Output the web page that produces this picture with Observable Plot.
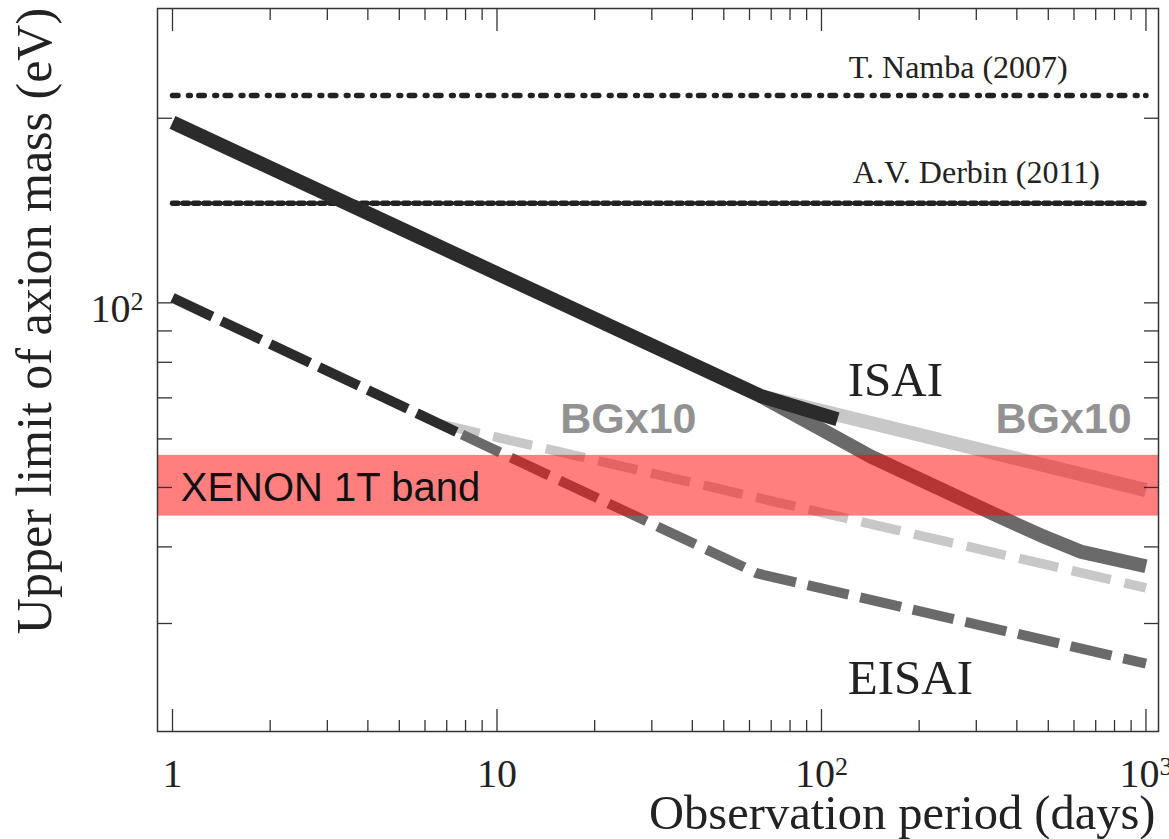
<!DOCTYPE html>
<html>
<head>
<meta charset="utf-8">
<script src="https://cdn.jsdelivr.net/npm/d3@7"></script>
<script src="https://cdn.jsdelivr.net/npm/@observablehq/plot@0.6"></script>
<style>
  html, body { margin: 0; padding: 0; background: #fff; overflow: hidden; }
  #chart svg { display: block; }
</style>
</head>
<body>
<div id="chart"></div>
<script>
// ---- data (days, eV) ----
const isaiDays = [1, 64.9, 112];
const isaiMass = [196.9, 70.5, 64.6];
const isaiTailDays = [64.9, 141.6, 351, 473, 628, 1000];
const isaiTailMass = [70.5, 56.2, 44.9, 41.8, 39.3, 37.2];
const isaiBgDays = [64.9, 1000];
const isaiBgMass = [70.5, 49.5];
const eisaiHeadDays = [1, 7.8];
const eisaiHeadMass = [101.9, 61.0];
const eisaiDays = [7.8, 63.5, 1000];
const eisaiMass = [61.0, 36.2, 25.8];
const eisaiBgDays = [6.7, 1000];
const eisaiBgMass = [63.4, 34.3];

const refNames = ["T. Namba (2007)", "A.V. Derbin (2011)"];
const refMass = [217.9, 145.4];
const refDays = [1, 1000];

const xenonLow = [44.9];
const xenonHigh = [56.4];
const xenonLabel = ["XENON 1T band"];

const refLabelDays = [264, 300];
const refLabelMass = [233, 157];
const seriesLabels = ["ISAI", "EISAI"];
const seriesLabelDays = [169, 188];
const seriesLabelMass = [70.5, 23.0];
const bgLabels = ["BGx10", "BGx10"];
const bgLabelDays = [25.4, 557];
const bgLabelMass = [61.3, 61.3];
const xenonLabelDays = [1.06];
const xenonLabelMass = [47.5];

const xMajor = [1, 10, 100, 1000];
const xMajorLabels = ["1", "10", "10^2", "10^3"];
const xMinor = [2, 3, 4, 5, 6, 7, 8, 9, 20, 30, 40, 50, 60, 70, 80, 90, 200, 300, 400, 500, 600, 700, 800, 900];
const yTicks = [200, 100, 90, 80, 70, 60, 50, 40, 30];
const yLabelTicks = [100];
const yLabelText = ["10^2"];

const xTitle = "Observation period (days)";
const yTitle = "Upper limit of axion mass (eV)";

// ---- helpers ----
const pts = (xs, ys) => xs.map((x, i) => ({x, y: ys[i]}));
const labels = (t, xs, ys) => t.map((s, i) => ({text: s, x: xs[i], y: ys[i]}));

const serif = "'Liberation Serif', 'Times New Roman', serif";
const sans = "'Liberation Sans', Arial, sans-serif";
const ink = "#333";

const plot = Plot.plot({
  width: 1169,
  height: 839,
  marginLeft: 157,
  marginRight: 11,
  marginTop: 8,
  marginBottom: 108,
  x: {type: "log", domain: [0.899, 1093]},
  y: {type: "log", domain: [20, 302]},
  style: {fontFamily: serif, background: "#fff", color: "#222"},
  marks: [
    // reference horizontal limits
    Plot.line(pts(refDays, [refMass[0], refMass[0]]), {x: "x", y: "y", stroke: "#222", strokeWidth: 5.5, strokeDasharray: "5.5,10.5,1.8,8.5"}),
    Plot.line(pts(refDays, [refMass[1], refMass[1]]), {x: "x", y: "y", stroke: "#222", strokeWidth: 5.5, strokeDasharray: "5.5,5"}),

    // ISAI curves
    Plot.line(pts(isaiBgDays, isaiBgMass), {x: "x", y: "y", stroke: "#c8c8c8", strokeWidth: 14, strokeLinecap: "butt"}),
    Plot.line(pts(isaiTailDays, isaiTailMass), {x: "x", y: "y", stroke: "#6a6a6a", strokeWidth: 14, strokeLinecap: "butt"}),
    Plot.line(pts(isaiDays, isaiMass), {x: "x", y: "y", stroke: "#2b2b2b", strokeWidth: 14, strokeLinecap: "butt"}),

    // EISAI curves (dashed)
    Plot.line(pts(eisaiBgDays, eisaiBgMass), {x: "x", y: "y", stroke: "#c8c8c8", strokeWidth: 9.5, strokeDasharray: "40,14", strokeLinecap: "butt"}),
    Plot.line(pts(eisaiDays, eisaiMass), {x: "x", y: "y", stroke: "#6a6a6a", strokeWidth: 10, strokeDasharray: "42,12", strokeLinecap: "butt"}),
    Plot.line(pts(eisaiHeadDays, eisaiHeadMass), {x: "x", y: "y", stroke: "#2b2b2b", strokeWidth: 10, strokeDasharray: "44,10", strokeLinecap: "butt"}),

    // XENON 1T band
    Plot.rect(xenonLow.map((lo, i) => ({lo, hi: xenonHigh[i]})), {y1: "lo", y2: "hi", fill: "red", fillOpacity: 0.5}),

    // frame and ticks
    Plot.frame({stroke: ink, strokeWidth: 1.5}),
    Plot.axisX(xMajor, {anchor: "bottom", tickSize: 22, dy: -22, fill: "none", stroke: ink, strokeWidth: 1.3, label: null}),
    Plot.axisX(xMajor, {anchor: "top", tickSize: 22, dy: 22, fill: "none", stroke: ink, strokeWidth: 1.3, label: null}),
    Plot.axisX(xMinor, {anchor: "bottom", tickSize: 11, dy: -11, fill: "none", stroke: ink, strokeWidth: 1.3, label: null}),
    Plot.axisX(xMinor, {anchor: "top", tickSize: 11, dy: 11, fill: "none", stroke: ink, strokeWidth: 1.3, label: null}),
    Plot.axisY(yTicks, {anchor: "left", tickSize: 15, dx: 15, fill: "none", stroke: ink, strokeWidth: 1.3, label: null}),
    Plot.axisY(yTicks, {anchor: "right", tickSize: 15, dx: -15, fill: "none", stroke: ink, strokeWidth: 1.3, label: null}),

    // tick labels
    Plot.axisX(xMajor, {anchor: "bottom", tickSize: 0, tickPadding: 27, fontSize: 40, fill: "#222", label: null,
      tickFormat: (d) => xMajorLabels[xMajor.indexOf(d)]}),
    Plot.axisY(yLabelTicks, {anchor: "left", tickSize: 0, tickPadding: 14, dy: 6, fontSize: 40, fill: "#222", label: null,
      tickFormat: (d) => yLabelText[yLabelTicks.indexOf(d)]}),

    // axis titles
    Plot.text([xTitle], {text: (d) => d, frameAnchor: "bottom-right", textAnchor: "end", lineAnchor: "bottom", dx: -3, dy: 97.5, fontSize: 48.5, fill: "#222"}),
    Plot.text([yTitle], {text: (d) => d, frameAnchor: "left", rotate: -90, textAnchor: "middle", lineAnchor: "bottom", dx: -107, dy: -49, fontSize: 50, fill: "#222"}),

    // annotations
    Plot.text(labels(refNames, refLabelDays, refLabelMass), {x: "x", y: "y", text: "text", lineAnchor: "bottom", textAnchor: "middle", fontSize: 32, fill: "#222"}),
    Plot.text(labels(seriesLabels, seriesLabelDays, seriesLabelMass), {x: "x", y: "y", text: "text", lineAnchor: "bottom", textAnchor: "middle", fontSize: 49, fill: "#222"}),
    Plot.text(labels(bgLabels, bgLabelDays, bgLabelMass), {x: "x", y: "y", text: "text", lineAnchor: "bottom", textAnchor: "middle", fontSize: 43, fontWeight: "bold", fontFamily: sans, fill: "#929292"}),
    Plot.text(labels(xenonLabel, xenonLabelDays, xenonLabelMass), {x: "x", y: "y", text: "text", lineAnchor: "bottom", textAnchor: "start", fontSize: 40, fontFamily: sans, fill: "#111"})
  ]
});

// superscripts for power-of-ten tick labels
d3.select(plot).selectAll("text").each(function () {
  const m = /^10\^(\d)$/.exec(this.textContent);
  if (m) {
    this.textContent = "10";
    d3.select(this).append("tspan").attr("dy", "-12").attr("font-size", "26px").text(m[1]);
  }
});

document.getElementById("chart").appendChild(plot);
</script>
</body>
</html>
